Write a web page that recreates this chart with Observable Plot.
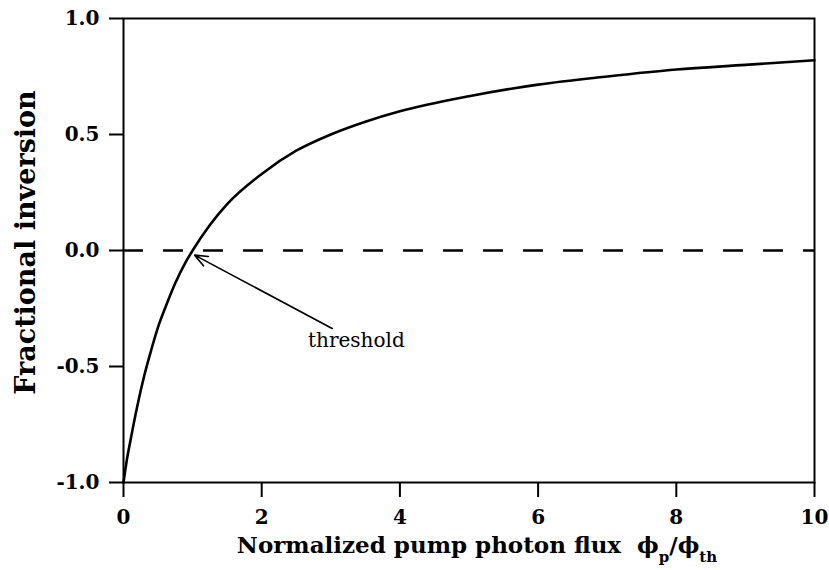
<!DOCTYPE html>
<html>
<head>
<meta charset="utf-8">
<script src="https://cdn.jsdelivr.net/npm/d3@7"></script>
<script src="https://cdn.jsdelivr.net/npm/@observablehq/plot@0.6"></script>
<style>
  html, body { margin: 0; padding: 0; background: white; }
  #chart { width: 829px; height: 570px; }
</style>
</head>
<body>
<div id="chart"></div>
<script>
// Data
const fluxValues      = [0, 0.05, 0.1, 0.2, 0.3, 0.4, 0.5, 0.6, 0.75, 0.9, 1, 1.25, 1.5, 2, 2.5, 3, 3.5, 4, 5, 6, 7, 8, 9, 10];
const inversionValues = [-1, -0.9, -0.82, -0.67, -0.54, -0.43, -0.33, -0.25, -0.14, -0.05, 0, 0.11, 0.2, 0.33, 0.43, 0.5, 0.555, 0.6, 0.665, 0.715, 0.75, 0.78, 0.8, 0.82];
const xTicks = [0, 2, 4, 6, 8, 10];
const yTicks = [-1, -0.5, 0, 0.5, 1];
const referenceLevel = [0];
const annotationText = ["threshold"];
const annotationTextX = [3.37];
const annotationTextY = [-0.39];
const arrowFromX = [3.02];
const arrowFromY = [-0.336];
const arrowToX = [1.03];
const arrowToY = [-0.02];
const yLabel = "Fractional inversion";
const xLabelMain = "Normalized pump photon flux";

const curve = fluxValues.map((x, i) => ({x, y: inversionValues[i]}));
const annotations = annotationText.map((t, i) => ({t, x: annotationTextX[i], y: annotationTextY[i]}));
const arrows = arrowFromX.map((x1, i) => ({x1, y1: arrowFromY[i], x2: arrowToX[i], y2: arrowToY[i]}));

const plot = Plot.plot({
  width: 829,
  height: 570,
  marginLeft: 123,
  marginRight: 15,
  marginTop: 18,
  marginBottom: 88,
  style: {fontFamily: "DejaVu Serif", color: "black", background: "white"},
  x: {domain: [0, 10]},
  y: {domain: [-1, 1]},
  marks: [
    Plot.ruleY(referenceLevel, {stroke: "black", strokeWidth: 2.5, strokeDasharray: "20,20"}),
    Plot.line(curve, {x: "x", y: "y", stroke: "black", strokeWidth: 2.6, curve: "monotone-x"}),
    Plot.arrow(arrows, {x1: "x1", y1: "y1", x2: "x2", y2: "y2", stroke: "black", strokeWidth: 1.6, headLength: 13, headAngle: 45}),
    Plot.text(annotations, {x: "x", y: "y", text: "t", fontSize: 20, fill: "black", fontFamily: "DejaVu Serif"}),
    Plot.frame({stroke: "black", strokeWidth: 2}),
    Plot.axisX({ticks: xTicks, tickSize: 15, tickPadding: 12, strokeWidth: 2, fontSize: 20, fontWeight: "bold", label: null, tickFormat: d => String(d)}),
    Plot.axisY({ticks: yTicks, tickSize: 14, tickPadding: 10, strokeWidth: 2, fontSize: 20, fontWeight: "bold", label: null, tickFormat: d => d.toFixed(1)}),
    Plot.text([yLabel], {frameAnchor: "left", textAnchor: "middle", dx: -97, dy: -8, rotate: -90, fontSize: 27, fontWeight: "bold", fill: "black", fontFamily: "DejaVu Serif"})
  ]
});

// x-axis label with subscripts (real text)
const svg = d3.select(plot);
const xl = svg.append("text")
  .attr("x", 477)
  .attr("y", 553)
  .attr("text-anchor", "middle")
  .attr("font-family", "DejaVu Serif")
  .attr("font-weight", "bold")
  .attr("font-size", 23)
  .attr("fill", "black");
xl.append("tspan").text(xLabelMain + "  \u03D5");
xl.append("tspan").attr("baseline-shift", "sub").attr("font-size", 15).text("p");
xl.append("tspan").text("/\u03D5");
xl.append("tspan").attr("baseline-shift", "sub").attr("font-size", 15).text("th");

document.getElementById("chart").appendChild(plot);
</script>
</body>
</html>
